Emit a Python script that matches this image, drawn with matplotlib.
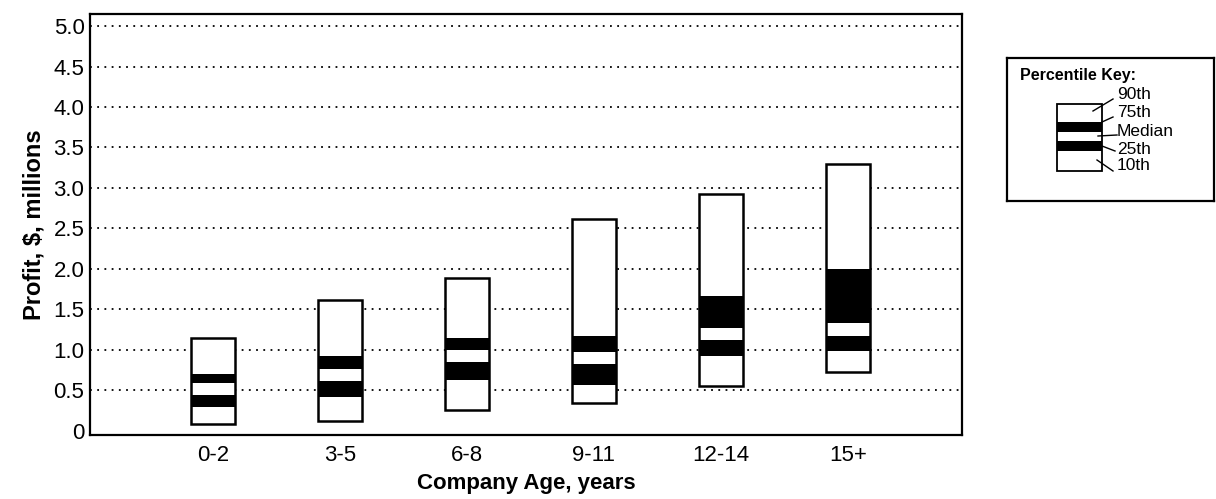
import numpy as np
import matplotlib
matplotlib.use('Agg')
import matplotlib.pyplot as plt
from matplotlib.patches import Rectangle

plt.rcParams['font.family'] = ['Liberation Sans', 'DejaVu Sans']

# percentile data, $ millions
ages = ['0-2', '3-5', '6-8', '9-11', '12-14', '15+']
p10 = [0.08, 0.12, 0.25, 0.34, 0.55, 0.72]
p25 = [0.29, 0.42, 0.63, 0.56, 0.92, 0.98]
median = [0.51, 0.69, 0.92, 0.90, 1.19, 1.25]
p75 = [0.70, 0.92, 1.14, 1.17, 1.66, 2.00]
p90 = [1.14, 1.62, 1.88, 2.61, 2.93, 3.29]

yticks = [0, 0.5, 1.0, 1.5, 2.0, 2.5, 3.0, 3.5, 4.0, 4.5, 5.0]
ytick_labels = ['0', '0.5', '1.0', '1.5', '2.0', '2.5', '3.0', '3.5', '4.0', '4.5', '5.0']

bar_w = 0.35
gap = 0.15  # white stripe at the median

fig = plt.figure(figsize=(12.16, 4.99), dpi=100)
ax = fig.add_axes([90/1216, 64/499, 872/1216, 421/499])

x = np.arange(len(ages))
for i in range(len(ages)):
    # outer box 10th-90th
    ax.bar(x[i], p90[i] - p10[i], bottom=p10[i], width=bar_w, color='white',
           edgecolor='black', linewidth=1.8, zorder=3)
    # black band 25th - median
    ax.bar(x[i], (median[i] - gap/2) - p25[i], bottom=p25[i], width=bar_w,
           color='black', linewidth=0, zorder=4)
    # black band median - 75th
    ax.bar(x[i], p75[i] - (median[i] + gap/2), bottom=median[i] + gap/2,
           width=bar_w, color='black', linewidth=0, zorder=4)

# dotted grid lines (none at zero)
ax.hlines(yticks[1:], -0.97, 5.9, colors='black', linestyles=(0, (1, 3)),
          linewidth=1.3, zorder=1)

ax.set_xlim(-0.97, 5.9)
ax.set_ylim(-0.055, 5.15)
ax.set_xticks(x)
ax.set_xticklabels(ages, fontsize=16)
ax.set_yticks(yticks)
ax.set_yticklabels(ytick_labels, fontsize=16)
ax.tick_params(axis='x', length=0, pad=7)
ax.tick_params(axis='y', length=0, pad=4)
for s in ax.spines.values():
    s.set_linewidth(1.6)
ax.set_xlabel('Company Age, years', fontsize=16, fontweight='bold', labelpad=5)
ax.set_ylabel('Profit, $, millions', fontsize=17, fontweight='bold', labelpad=6)

# percentile key box
lg = fig.add_axes([1007/1216, (499-201)/499, 207/1216, 143/499])
lg.set_xlim(0, 207)
lg.set_ylim(143, 0)
lg.set_xticks([])
lg.set_yticks([])
for s in lg.spines.values():
    s.set_linewidth(1.6)
lg.text(13, 18, 'Percentile Key:', fontsize=11.5, fontweight='bold', va='center')
bx0, bx1 = 50, 95
lg.add_patch(Rectangle((bx0, 46), bx1 - bx0, 67, facecolor='white', edgecolor='black', linewidth=1.3))
lg.add_patch(Rectangle((bx0, 64), bx1 - bx0, 10, facecolor='black'))
lg.add_patch(Rectangle((bx0, 83), bx1 - bx0, 10, facecolor='black'))
key_labels = ['90th', '75th', 'Median', '25th', '10th']
label_y = [37, 55, 74, 91, 107]
line_from = [(86, 53), (95, 64), (91, 78), (95, 88), (90, 102)]
line_to = [(106, 41), (106, 59), (110, 77), (108, 93), (106, 113)]
for lab, ly, p0, p1 in zip(key_labels, label_y, line_from, line_to):
    lg.text(110, ly, lab, fontsize=12.5, va='center')
    lg.plot([p0[0], p1[0]], [p0[1], p1[1]], color='black', linewidth=1)

fig.savefig('out.png', dpi=100)
